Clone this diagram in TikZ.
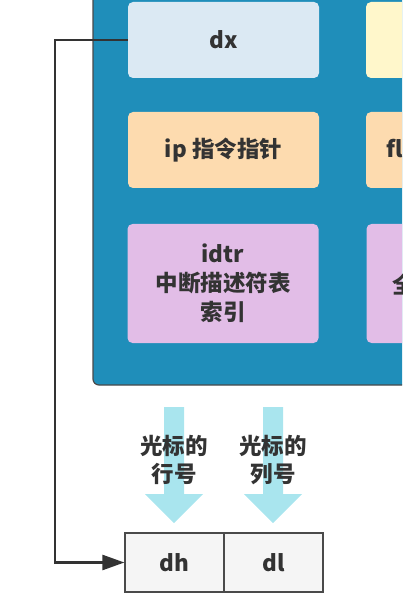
\documentclass[tikz,border=0pt]{standalone}
\usepackage{fontspec}
\setmainfont{Noto Sans CJK SC}
\usetikzlibrary{arrows.meta}
\definecolor{panelblue}{HTML}{1F8EBA}
\definecolor{panelline}{HTML}{4A4A4A}
\definecolor{dxblue}{HTML}{DBE9F3}
\definecolor{regyellow}{HTML}{FFF7CB}
\definecolor{regpeach}{HTML}{FDDBAF}
\definecolor{regpurple}{HTML}{E2BDE7}
\definecolor{hintcyan}{HTML}{A9E5EE}
\definecolor{txtgray}{HTML}{333333}
\tikzset{
  reg/.style={rounded corners=5pt, minimum width=191pt, minimum height=76pt,
    inner sep=0pt, align=center, text=txtgray,
    font=\bfseries\fontsize{22.5}{29}\selectfont},
  half/.style={draw=panelline, line width=1.2pt, fill=black!4, minimum width=99pt,
    minimum height=59pt, inner sep=0pt, text=txtgray,
    font=\bfseries\fontsize{22.5}{29}\selectfont},
  hint/.style={text=txtgray, align=center, font=\bfseries\fontsize{22.5}{27.5}\selectfont},
  conn/.style={draw=txtgray, line width=2.5pt, -{Triangle[length=22pt,width=15pt]}}
}
\begin{document}
\begin{tikzpicture}[x=1pt,y=-1pt]
  \useasboundingbox (0,0) rectangle (402,609);
  \clip (0,0) rectangle (402,609);
  % register panel
  \draw[fill=panelblue,draw=panelline,line width=1.2pt,rounded corners=6pt] (93,-30) rectangle (440,385);
  \node[reg,fill=dxblue] (dx) at (223.5,40) {dx};
  \node[reg,fill=regyellow] (cx) at (461.5,40) {};
  \node[reg,fill=regpeach] (ip) at (223.5,150) {ip 指令指针};
  \node[reg,fill=regpeach,minimum height=76pt] (flags) at (461.5,150) {};
  \node[text=txtgray,anchor=west,inner sep=0pt,font=\bfseries\fontsize{22.5}{29}\selectfont] (fl) at (386,149) {fl};
  \node[reg,fill=regpurple,minimum height=119pt] (idtr) at (223,283.5) {idtr\\中断描述符表\\索引};
  \node[reg,fill=regpurple,minimum height=119pt] (gdtr) at (462,283.5) {};
  \node[text=txtgray,anchor=west,inner sep=0pt,font=\bfseries\fontsize{22.5}{29}\selectfont] (quan) at (392,285) {全};
  % dh dl
  \node[half] (dh) at (174.5,562.5) {dh};
  \node[half] (dl) at (273.5,562.5) {dl};
  % hint arrows
  \foreach \cx/\what [count=\i] in {174/行号,273/列号}{
    \fill[hintcyan] (\cx-10,407) -- (\cx+10,407) -- (\cx+10,494) -- (\cx+29,494)
      -- (\cx,523) -- (\cx-29,494) -- (\cx-10,494) -- cycle;
    \node[hint] (hint\i) at (\cx,460) {光标的\\\what};
  }
  \draw[conn] (dx.west) -- ++(-73,0) |- (dh.west);
\end{tikzpicture}
\end{document}
